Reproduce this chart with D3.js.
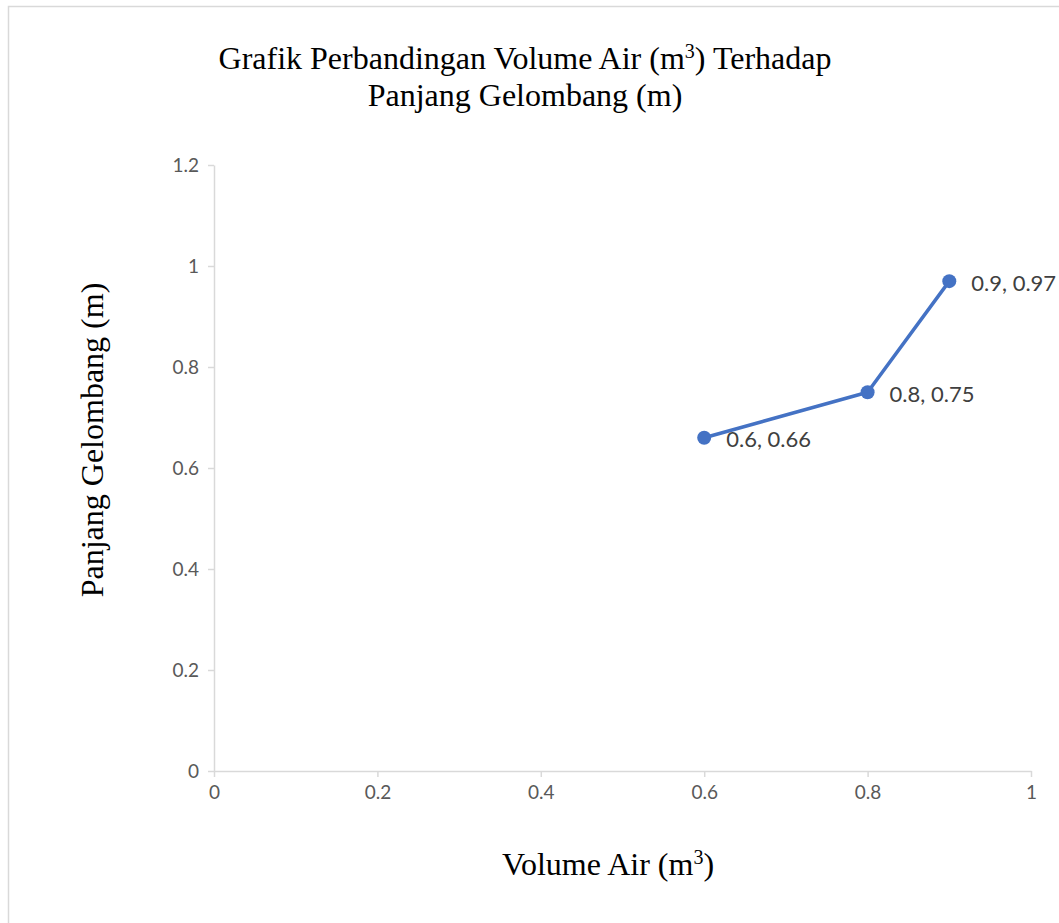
<!DOCTYPE html>
<html>
<head>
<meta charset="utf-8">
<script src="https://cdn.jsdelivr.net/npm/d3@7"></script>
<style>
  body { margin: 0; background: #fff; }
</style>
</head>
<body>
<svg id="svg"></svg>
<script>
// data
const volumeAir = [0.6, 0.8, 0.9];
const panjangGelombang = [0.66, 0.75, 0.97];
const xTicks = [0, 0.2, 0.4, 0.6, 0.8, 1];
const yTicks = [0, 0.2, 0.4, 0.6, 0.8, 1, 1.2];

const W = 1059, H = 923;
const LINE_COLOR = "#4472C4";
const AXIS_COLOR = "#d9d9d9";
const SERIF = "'Liberation Serif', 'Times New Roman', serif";
const SANS = "Lato, 'Open Sans', sans-serif";

const svg = d3.select("#svg")
    .attr("width", W)
    .attr("height", H);

// chart border
svg.append("rect")
    .attr("x", 8.5).attr("y", 6.5)
    .attr("width", W + 20).attr("height", H + 20)
    .attr("fill", "#fff")
    .attr("stroke", "#d9d9d9")
    .attr("stroke-width", 1.5);

const x = d3.scaleLinear().domain([0, 1]).range([214, 1031]);
const y = d3.scaleLinear().domain([0, 1.2]).range([771, 165]);

// x axis
const gx = svg.append("g")
    .attr("transform", `translate(0,${y(0)})`)
    .call(d3.axisBottom(x).tickValues(xTicks).tickFormat(d3.format("")).tickSize(6).tickSizeOuter(0).tickPadding(9));
gx.select(".domain").attr("stroke", AXIS_COLOR).attr("stroke-width", 1.5);
gx.selectAll(".tick line").attr("stroke", AXIS_COLOR).attr("stroke-width", 1.5);
gx.selectAll(".tick text")
    .style("font-family", SANS).style("font-size", "19px").style("fill", "#595959");

// y axis
const gy = svg.append("g")
    .attr("transform", `translate(${x(0)},0)`)
    .call(d3.axisLeft(y).tickValues(yTicks).tickFormat(d3.format("")).tickSize(6).tickSizeOuter(0).tickPadding(9));
gy.select(".domain").attr("stroke", AXIS_COLOR).attr("stroke-width", 1.5);
gy.selectAll(".tick line").attr("stroke", AXIS_COLOR).attr("stroke-width", 1.5);
gy.selectAll(".tick text")
    .style("font-family", SANS).style("font-size", "19px").style("fill", "#595959");

const points = volumeAir.map((v, i) => ({ x: v, y: panjangGelombang[i] }));

// line
svg.append("path")
    .datum(points)
    .attr("fill", "none")
    .attr("stroke", LINE_COLOR)
    .attr("stroke-width", 3.5)
    .attr("stroke-linejoin", "round")
    .attr("d", d3.line().x(d => x(d.x)).y(d => y(d.y)));

// markers
svg.append("g").selectAll("circle")
    .data(points)
    .join("circle")
    .attr("cx", d => x(d.x))
    .attr("cy", d => y(d.y))
    .attr("r", 7)
    .attr("fill", LINE_COLOR);

// data labels
svg.append("g").selectAll("text")
    .data(points)
    .join("text")
    .attr("x", d => x(d.x) + 22)
    .attr("y", d => y(d.y) + 2)
    .attr("dy", "0.35em")
    .style("font-family", SANS)
    .style("font-size", "22px")
    .style("fill", "#404040")
    .text(d => `${d.x}, ${d.y}`);

// title
const title = svg.append("text")
    .attr("text-anchor", "middle")
    .style("font-family", SERIF)
    .style("font-size", "32px")
    .style("fill", "#000");
const t1 = title.append("tspan").attr("x", 525).attr("y", 69);
t1.append("tspan").text("Grafik Perbandingan Volume Air (m");
t1.append("tspan").attr("dy", -11).style("font-size", "20px").text("3");
t1.append("tspan").attr("dy", 11).text(") Terhadap");
title.append("tspan").attr("x", 525).attr("y", 106).text("Panjang Gelombang (m)");

// x axis title
const xt = svg.append("text")
    .attr("x", 608).attr("y", 875)
    .attr("text-anchor", "middle")
    .style("font-family", SERIF)
    .style("font-size", "32px")
    .style("fill", "#000");
xt.append("tspan").text("Volume Air (m");
xt.append("tspan").attr("dy", -11).style("font-size", "20px").text("3");
xt.append("tspan").attr("dy", 11).text(")");

// y axis title
svg.append("text")
    .attr("transform", `translate(103,440) rotate(-90)`)
    .attr("text-anchor", "middle")
    .style("font-family", SERIF)
    .style("font-size", "32px")
    .style("fill", "#000")
    .text("Panjang Gelombang (m)");
</script>
</body>
</html>
